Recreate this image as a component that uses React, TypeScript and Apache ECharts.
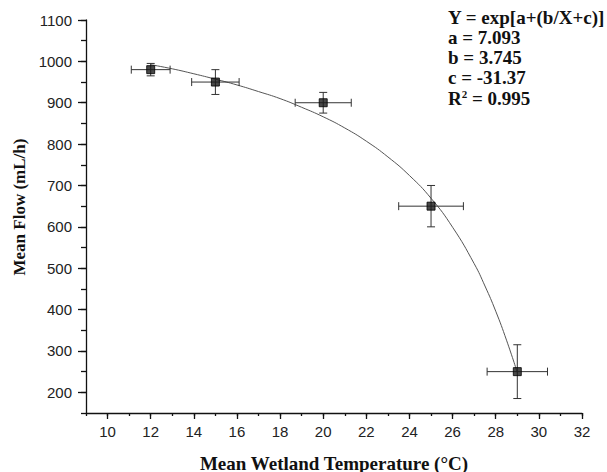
import React, { useEffect, useRef } from "react";
import * as echarts from "echarts";

// Measured points (mean wetland temperature, mean flow) with error bars
const tempX = [12, 15, 20, 25, 29];
const flowY = [980, 950, 900, 650, 250];
const tempErr = [0.9, 1.1, 1.3, 1.5, 1.4];
const flowErr = [15, 30, 25, 50, 65];

// Fitted curve
const fitX = [12, 13, 14, 15, 16, 17, 18, 19, 20, 21, 22, 23, 24, 25, 26, 27, 27.5, 28, 28.5, 29];
const fitY = [992, 982, 970, 957, 943, 927, 910, 889, 866, 839, 807, 769, 724, 669, 599, 511, 457, 396, 326, 248];

const annotation = ["Y = exp[a+(b/X+c)]", "a = 7.093", "b = 3.745", "c = -31.37"];
const r2Text = "0.995";

const xTitle = "Mean Wetland Temperature (°C)";
const yTitle = "Mean Flow (mL/h)";

const SERIF = '"Liberation Serif", "Times New Roman", serif';
const SANS = '"Liberation Sans", Arial, sans-serif';

export default function App() {
  const ref = useRef<HTMLDivElement>(null);
  useEffect(() => {
    if (!ref.current) return;
    const chart = echarts.init(ref.current, null, { renderer: "svg" });
    const lineStyle = { color: "#111", width: 1.3 };
    const labelFmt = (v: number) => String(v);
    const option: any = {
      animation: false,
      backgroundColor: "#fff",
      grid: { left: 86, right: 25, top: 20, bottom: 59, containLabel: false },
      xAxis: [
        {
          type: "value",
          position: "bottom",
          min: 9,
          max: 32,
          splitNumber: 12,
          minInterval: 2,
          maxInterval: 2,
          axisLine: { show: true, onZero: false, lineStyle },
          axisTick: { show: true, inside: false, length: 6, lineStyle },
          axisLabel: { showMinLabel: false, margin: 11, fontFamily: SANS, fontSize: 15, color: "#222", formatter: labelFmt },
          splitLine: { show: false },
        },
        {
          type: "value",
          position: "bottom",
          min: 9,
          max: 32,
          interval: 1,
          axisLine: { show: false, onZero: false },
          axisTick: { show: true, inside: false, length: 3, lineStyle },
          axisLabel: { show: false },
          splitLine: { show: false },
        },
      ],
      yAxis: [
        {
          type: "value",
          position: "left",
          min: 150,
          max: 1100,
          splitNumber: 10,
          minInterval: 100,
          maxInterval: 100,
          axisLine: { show: true, onZero: false, lineStyle },
          axisTick: { show: true, inside: false, length: 8, lineStyle },
          axisLabel: { showMinLabel: false, margin: 14, fontFamily: SANS, fontSize: 15, color: "#222", formatter: labelFmt },
          splitLine: { show: false },
        },
        {
          type: "value",
          position: "left",
          min: 150,
          max: 1100,
          interval: 50,
          axisLine: { show: false, onZero: false },
          axisTick: { show: true, inside: false, length: 5, lineStyle },
          axisLabel: { show: false },
          splitLine: { show: false },
        },
      ],
      graphic: [
        ...annotation.map((t, i) => ({
          type: "text",
          x: 448,
          y: 17 + i * 20.3,
          style: { text: t, font: `bold 19px ${SERIF}`, fill: "#111", verticalAlign: "middle", align: "left" },
        })),
        {
          type: "text",
          x: 448,
          y: 17 + 4 * 20.3,
          style: {
            text: "{b|R}{s|2}{b| = " + r2Text + "}",
            verticalAlign: "middle",
            align: "left",
            rich: {
              b: { font: `bold 19px ${SERIF}`, fill: "#111", verticalAlign: "bottom" },
              s: { font: `bold 11px ${SERIF}`, fill: "#111", verticalAlign: "top", padding: [0, 0, 8, 0] },
            },
          },
        },
        {
          type: "text",
          x: 334,
          y: 463,
          style: { text: xTitle, font: `bold 19px ${SERIF}`, fill: "#111", align: "center", verticalAlign: "middle" },
        },
        {
          type: "text",
          x: 19,
          y: 207,
          rotation: Math.PI / 2,
          style: { text: yTitle, font: `bold 17px ${SERIF}`, fill: "#111", align: "center", verticalAlign: "middle" },
        },
      ],
      series: [
        {
          type: "line",
          xAxisIndex: 0,
          yAxisIndex: 0,
          data: fitX.map((x, i) => [x, fitY[i]]),
          smooth: true,
          showSymbol: false,
          lineStyle: { color: "#555", width: 1 },
          z: 1,
        },
        {
          type: "custom",
          xAxisIndex: 0,
          yAxisIndex: 0,
          data: tempX.map((x, i) => [x, flowY[i], tempErr[i], flowErr[i]]),
          encode: { x: 0, y: 1 },
          z: 2,
          renderItem: (params: any, api: any) => {
            const x = api.value(0);
            const y = api.value(1);
            const ex = api.value(2);
            const ey = api.value(3);
            const l = api.coord([x - ex, y]);
            const r = api.coord([x + ex, y]);
            const t = api.coord([x, y + ey]);
            const b = api.coord([x, y - ey]);
            const style = { stroke: "#333", lineWidth: 1, fill: null };
            const ln = (x1: number, y1: number, x2: number, y2: number) => ({
              type: "line",
              shape: { x1, y1, x2, y2 },
              style,
            });
            return {
              type: "group",
              children: [
                ln(l[0], l[1], r[0], r[1]),
                ln(l[0], l[1] - 4, l[0], l[1] + 4),
                ln(r[0], r[1] - 4, r[0], r[1] + 4),
                ln(t[0], t[1], b[0], b[1]),
                ln(t[0] - 4, t[1], t[0] + 4, t[1]),
                ln(b[0] - 4, b[1], b[0] + 4, b[1]),
              ],
            };
          },
        },
        {
          type: "scatter",
          xAxisIndex: 0,
          yAxisIndex: 0,
          data: tempX.map((x, i) => [x, flowY[i]]),
          symbol: "rect",
          symbolSize: 8,
          itemStyle: { color: "#1a1a1a", borderColor: "#000", borderWidth: 1 },
          z: 3,
        },
      ],
    };
    chart.setOption(option);
    return () => chart.dispose();
  }, []);
  return <div ref={ref} style={{ width: 607, height: 472, position: "absolute", left: 0, top: 0 }} />;
}
